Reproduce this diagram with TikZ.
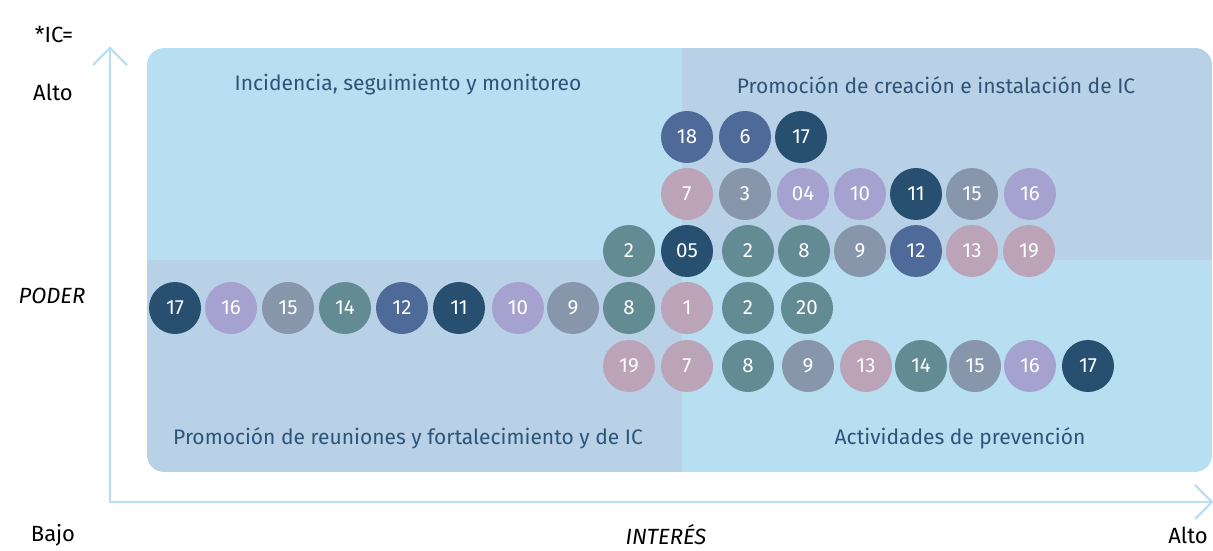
\documentclass[tikz,border=0pt]{standalone}
\usepackage{fontspec}
\setmainfont{Fira Sans}
\usetikzlibrary{calc}
\definecolor{qlight}{HTML}{B8DFF1}
\definecolor{qgray}{HTML}{B9D1E6}
\definecolor{cdark}{HTML}{264F70}
\definecolor{cblue}{HTML}{4D6A98}
\definecolor{cteal}{HTML}{638B93}
\definecolor{cgray}{HTML}{8896AB}
\definecolor{clav}{HTML}{A6A2D0}
\definecolor{cpink}{HTML}{BCA4B8}
\definecolor{qtext}{HTML}{2D5478}
\definecolor{axisc}{HTML}{B8DFF1}
\tikzset{
  dot/.style={circle, minimum size=52pt, inner sep=0pt, text=white, font=\fontsize{20.5}{20.5}\selectfont},
  qtitle/.style={text=qtext, font=\fontsize{21}{21}\selectfont},
  axlabel/.style={text=black, font=\fontsize{22}{22}\selectfont},
  axisline/.style={draw=axisc, line width=2.2pt},
}
\begin{document}
\begin{tikzpicture}[x=1pt,y=-1pt]
\useasboundingbox (0,0) rectangle (1213,551);
% panel
\begin{scope}
\clip[rounded corners=17pt] (147,48) rectangle (1212,472);
\fill[qlight] (147,48) rectangle (682,260);
\fill[qgray] (682,48) rectangle (1212,260);
\fill[qgray] (147,260) rectangle (682,472);
\fill[qlight] (682,260) rectangle (1212,472);
\end{scope}
% axes
\coordinate (ytip) at (110,48);
\coordinate (origin) at (110,502);
\coordinate (xtip) at (1212,502);
\draw[axisline] (ytip) -- (origin) -- (xtip);
\draw[axisline] ($(ytip)+(-17,17)$) -- (ytip) -- ($(ytip)+(17,17)$);
\draw[axisline] ($(xtip)+(-17,-17)$) -- (xtip) -- ($(xtip)+(-17,17)$);
% labels
\node[axlabel] (ic) at (54,35) {*IC=};
\node[axlabel] (alto1) at (53,92) {Alto};
\node[axlabel, font=\fontsize{22}{22}\selectfont\itshape] (poder) at (52,296) {PODER};
\node[axlabel] (bajo) at (53,535) {Bajo};
\node[axlabel, font=\fontsize{22}{22}\selectfont\itshape] (interes) at (666,535) {INTERÉS};
\node[axlabel] (alto2) at (1188,535) {Alto};
% quadrant titles
\node[qtitle] (q1) at (408,85) {Incidencia, seguimiento y monitoreo};
\node[qtitle] (q2) at (936,85) {Promoción de creación e instalación de IC};
\node[qtitle] (q3) at (408,438) {Promoción de reuniones y fortalecimiento y de IC};
\node[qtitle] (q4) at (960,438) {Actividades de prevención};
% circles
\foreach \x/\t/\c [count=\i] in {687/18/cblue, 745/6/cblue, 801/17/cdark}
  \node[dot, fill=\c] (ra\i) at (\x,137) {\t};
\foreach \x/\t/\c [count=\i] in {687/7/cpink, 745/3/cgray, 803/04/clav, 860/10/clav, 916/11/cdark, 972/15/cgray, 1030/16/clav}
  \node[dot, fill=\c] (rb\i) at (\x,194) {\t};
\foreach \x/\t/\c [count=\i] in {629/2/cteal, 687/05/cdark, 748/2/cteal, 804/8/cteal, 860/9/cgray, 916/12/cblue, 972/13/cpink, 1029/19/cpink}
  \node[dot, fill=\c] (rc\i) at (\x,251) {\t};
\foreach \x/\t/\c [count=\i] in {175/17/cdark, 231/16/clav, 288/15/cgray, 345/14/cteal, 402/12/cblue, 459/11/cdark, 518/10/clav, 573/9/cgray, 629/8/cteal, 687/1/cpink, 748/2/cteal, 807/20/cteal}
  \node[dot, fill=\c] (rd\i) at (\x,308) {\t};
\foreach \x/\t/\c [count=\i] in {629/19/cpink, 687/7/cpink, 748/8/cteal, 808/9/cgray, 866/13/cpink, 921/14/cteal, 975/15/cgray, 1030/16/clav, 1088/17/cdark}
  \node[dot, fill=\c] (re\i) at (\x,366) {\t};
\end{tikzpicture}
\end{document}
